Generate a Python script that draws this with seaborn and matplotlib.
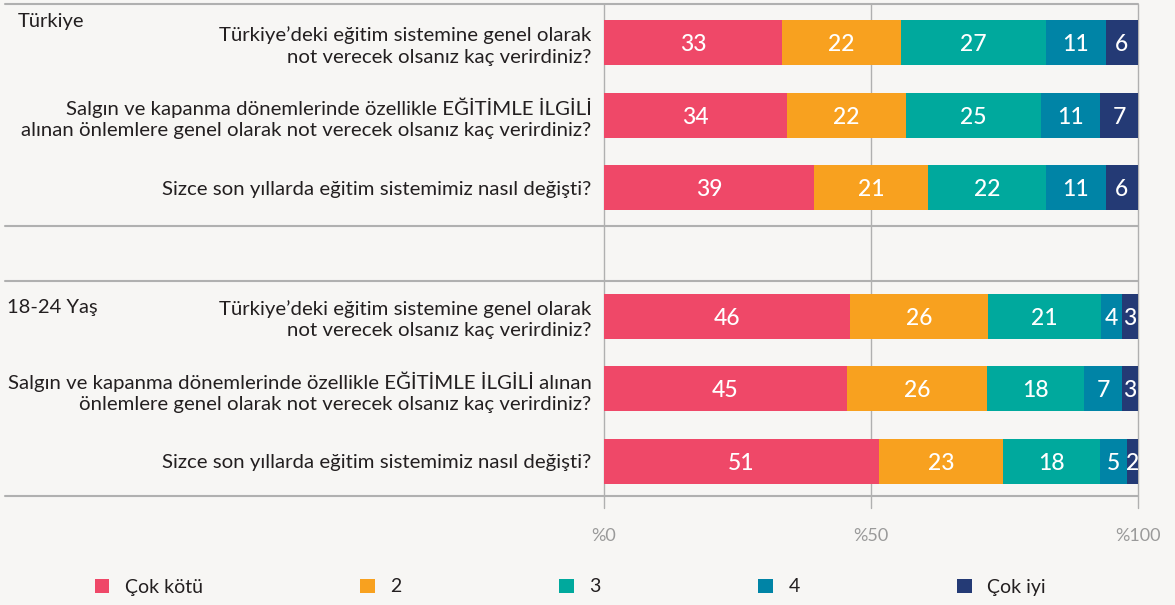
import pandas as pd
import matplotlib.pyplot as plt
import seaborn as sns
from matplotlib.patches import Patch

# veriler
gruplar = ["Türkiye", "18-24 Yaş"]
sorular_turkiye = [
    "Türkiye’deki eğitim sistemine genel olarak\nnot verecek olsanız kaç verirdiniz?",
    "Salgın ve kapanma dönemlerinde özellikle EĞİTİMLE İLGİLİ\nalınan önlemlere genel olarak not verecek olsanız kaç verirdiniz?",
    "Sizce son yıllarda eğitim sistemimiz nasıl değişti?",
]
sorular_genc = [
    "Türkiye’deki eğitim sistemine genel olarak\nnot verecek olsanız kaç verirdiniz?",
    "Salgın ve kapanma dönemlerinde özellikle EĞİTİMLE İLGİLİ alınan\nönlemlere genel olarak not verecek olsanız kaç verirdiniz?",
    "Sizce son yıllarda eğitim sistemimiz nasıl değişti?",
]
kategoriler = ["Çok kötü", "2", "3", "4", "Çok iyi"]
renkler = ["#EF4868", "#F8A11F", "#00A99D", "#0084A6", "#243A75"]

turkiye_degerler = [
    [33, 22, 27, 11, 6],
    [34, 22, 25, 11, 7],
    [39, 21, 22, 11, 6],
]
genc_degerler = [
    [46, 26, 21, 4, 3],
    [45, 26, 18, 7, 3],
    [51, 23, 18, 5, 2],
]

arka_plan = "#F7F6F4"
yazi_rengi = "#231F20"
cizgi_rengi = "#B0B0B0"
grup_boslugu = 0.77

# uzun tablo: her satır bir çubuk parçası
kayitlar = []
sira = 0
for g, (sorular, degerler) in enumerate([(sorular_turkiye, turkiye_degerler),
                                         (sorular_genc, genc_degerler)]):
    for soru, satir in zip(sorular, degerler):
        pos = sira + g * grup_boslugu
        toplam = sum(satir)
        bitis = 0
        for kat, v in zip(kategoriler, satir):
            pay = v / toplam * 100
            bitis += pay
            kayitlar.append(dict(pos=pos, soru=soru, grup=g, kategori=kat,
                                 deger=v, pay=pay, bitis=bitis))
        sira += 1
df = pd.DataFrame(kayitlar)

sns.set_style("white")
plt.rcParams["font.family"] = ["Lato", "DejaVu Sans"]

fig = plt.figure(figsize=(11.75, 6.05), dpi=100, facecolor=arka_plan)
ax = fig.add_axes([604 / 1175, 1 - 496 / 605, 534 / 1175, 492 / 605])
ax.set_facecolor(arka_plan)

# yığılmış çubuklar: kümülatif değerleri sondan başa üst üste çiz
for kat, renk in reversed(list(zip(kategoriler, renkler))):
    alt = df[df["kategori"] == kat]
    sns.barplot(data=alt, x="bitis", y="pos", orient="y", native_scale=True,
                color=renk, saturation=1, width=0.62, errorbar=None,
                linewidth=0, ax=ax, zorder=2)

# çubuk içi sayılar
for _, r in df.iterrows():
    ax.text(r["bitis"] - r["pay"] / 2, r["pos"], str(r["deger"]),
            ha="center", va="center_baseline", color="white", fontsize=16.5,
            fontweight="medium", zorder=3)

konumlar = df.drop_duplicates("pos")
ust = konumlar["pos"].min() - 0.53
alt_sinir = konumlar["pos"].max() + 0.48
ax.set_ylim(alt_sinir, ust)
ax.set_xlim(0, 100)

ax.set_yticks(konumlar["pos"], labels=konumlar["soru"], linespacing=1.3)
ax.tick_params(axis="y", length=0, pad=9, labelsize=14.7, labelcolor=yazi_rengi)
ax.set_xticks([0, 50, 100], labels=["%0", "%50", "%100"])
ax.tick_params(axis="x", length=0, pad=23, labelsize=13, labelcolor="#9A9A9A")
ax.set_xlabel("")
ax.set_ylabel("")
for s in ax.spines.values():
    s.set_visible(False)

# dikey kılavuz çizgileri
for x in [0, 50, 100]:
    ax.axvline(x, ymin=-0.025, ymax=1, color=cizgi_rengi, lw=1, clip_on=False,
               zorder=0)

# yatay ayırıcı çizgiler
son_tr = konumlar[konumlar["grup"] == 0]["pos"].max()
ilk_genc = konumlar[konumlar["grup"] == 1]["pos"].min()
sol = (5 - 604) / 534
for y in [ust, son_tr + 0.53, ilk_genc - 0.48, alt_sinir]:
    ax.axhline(y, xmin=sol, xmax=1, color=cizgi_rengi, lw=1.5, clip_on=False,
               zorder=0)

# grup başlıkları
fig.text(18 / 1175, 1 - 22 / 605, gruplar[0], fontsize=14.5, color=yazi_rengi,
         va="center", ha="left")
fig.text(7 / 1175, 1 - 308 / 605, gruplar[1], fontsize=14.5, color=yazi_rengi,
         va="center", ha="left")

# lejant
tutamaklar = [Patch(facecolor=r, edgecolor="none") for r in renkler]
fig.legend(tutamaklar, kategoriler, loc="center left",
           bbox_to_anchor=(85 / 1175, 1 - 587 / 605), ncol=5, frameon=False,
           fontsize=14, handlelength=0.75, handleheight=0.75,
           handletextpad=0.8, columnspacing=8.1, borderpad=0,
           labelcolor=yazi_rengi)

plt.savefig("out.png", dpi=100, facecolor=arka_plan)
